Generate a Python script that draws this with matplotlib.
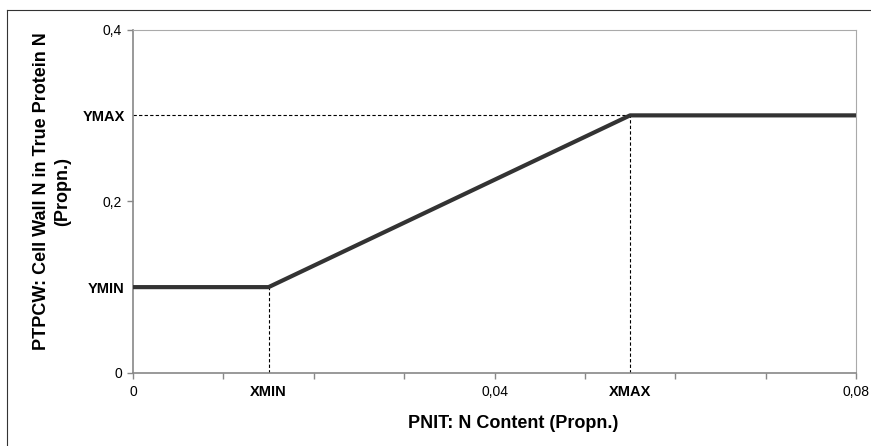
import matplotlib
matplotlib.use("Agg")
import matplotlib.pyplot as plt
from matplotlib.lines import Line2D

plt.rcParams['font.family'] = ['Liberation Sans', 'DejaVu Sans']

# data
XMIN = 0.015
XMAX = 0.055
YMIN = 0.1
YMAX = 0.3
line_x = [0.0, XMIN, XMAX, 0.08]
line_y = [YMIN, YMIN, YMAX, YMAX]
x_major = [0, 0.01, 0.02, 0.03, 0.04, 0.05, 0.06, 0.07, 0.08]
x_major_labels = ['0', '', '', '', '0,04', '', '', '', '0,08']
y_major = [0, 0.2, 0.4]
y_major_labels = ['0', '0,2', '0,4']
x_special = [XMIN, XMAX]
x_special_labels = ['XMIN', 'XMAX']
y_special = [YMIN, YMAX]
y_special_labels = ['YMIN', 'YMAX']

W, H = 871, 446
fig = plt.figure(figsize=(W / 100, H / 100), dpi=100)
ax = fig.add_axes([133 / W, 1 - 373 / H, (856 - 133) / W, (373 - 29.5) / H])

ax.plot(line_x, line_y, color='#333333', lw=3.0, solid_capstyle='butt', zorder=3)
dash = dict(color='black', lw=0.8, ls=(0, (3, 2)), zorder=2)
ax.plot([XMIN, XMIN], [0, YMIN], **dash)
ax.plot([XMAX, XMAX], [0, YMAX], **dash)
ax.plot([0, XMAX], [YMAX, YMAX], **dash)

ax.set_xlim(0, 0.08)
ax.set_ylim(0, 0.4)
ax.set_xticks(x_major)
ax.set_xticklabels(x_major_labels)
ax.set_yticks(y_major)
ax.set_yticklabels(y_major_labels)
ax.set_xticks(x_special, minor=True)
ax.set_xticklabels(x_special_labels, minor=True, fontweight='bold')
ax.set_yticks(y_special, minor=True)
ax.set_yticklabels(y_special_labels, minor=True, fontweight='bold')

ax.tick_params(which='major', direction='out', length=4, width=1, color='#888888',
               labelsize=10, labelcolor='black')
ax.tick_params(axis='x', which='major', pad=5)
ax.tick_params(axis='y', which='major', pad=4)
ax.tick_params(which='minor', length=0, labelsize=10.5, labelcolor='black')
ax.tick_params(axis='x', which='minor', pad=8.5)
ax.tick_params(axis='y', which='minor', pad=6)

for s in ['left', 'bottom']:
    ax.spines[s].set_color('#888888')
    ax.spines[s].set_linewidth(1.2)
for s in ['top', 'right']:
    ax.spines[s].set_color('#aaaaaa')
    ax.spines[s].set_linewidth(0.8)

fig.text(513.5 / W, 1 - 428 / H, 'PNIT: N Content (Propn.)', fontsize=13,
         fontweight='bold', ha='center', va='baseline')
fig.text(52 / W, 1 - 191.5 / H, 'PTPCW: Cell Wall N in True Protein N\n(Propn.)',
         fontsize=13, fontweight='bold', rotation=90, ha='center', va='center',
         multialignment='center', linespacing=1.25)

# figure border (top and left)
fig.add_artist(Line2D([7 / W, 1], [1 - 10 / H, 1 - 10 / H], transform=fig.transFigure,
                      color='#333333', lw=0.8))
fig.add_artist(Line2D([7 / W, 7 / W], [0, 1 - 10 / H], transform=fig.transFigure,
                      color='#333333', lw=0.8))

fig.savefig('out.png', dpi=100)
